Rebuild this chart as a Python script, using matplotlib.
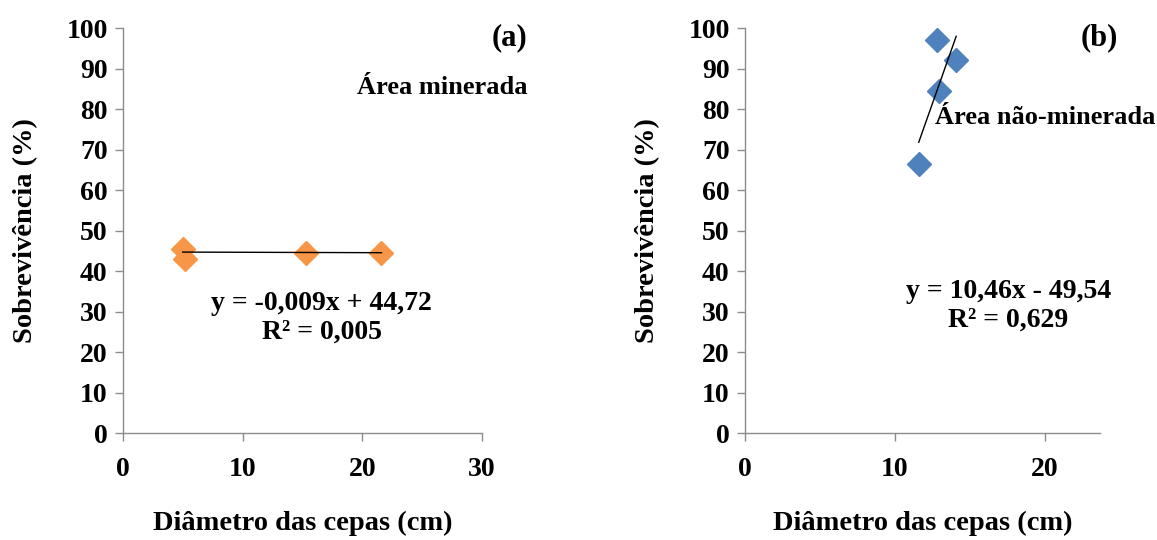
import numpy as np
import matplotlib
matplotlib.use('Agg')
import matplotlib.pyplot as plt

plt.rcParams['font.family'] = ['Liberation Serif', 'DejaVu Serif']
plt.rcParams['font.weight'] = 'bold'

# painel (a) - área minerada
diamA = [5.0, 5.2, 15.3, 21.6]
sobrevA = [45.5, 43.0, 44.5, 44.5]
eqA = (-0.009, 44.72)
txtA = "y = -0,009x + 44,72\nR² = 0,005"

# painel (b) - área não-minerada
diamB = [11.6, 12.8, 12.95, 14.1]
sobrevB = [66.5, 97.0, 84.5, 92.0]
eqB = (10.46, -49.54)
txtB = "y = 10,46x - 49,54\nR² = 0,629"

yticks = list(range(0, 101, 10))

fig = plt.figure(figsize=(11.57, 5.4), dpi=100)
axA = fig.add_axes([0.1063, 0.1981, 0.3103, 0.75])
axB = fig.add_axes([0.6439, 0.1981, 0.3068, 0.75])

def styleAxis(ax, xmax, xticks):
	ax.set_xlim(0, xmax)
	ax.set_ylim(0, 100)
	ax.set_xticks(xticks)
	ax.set_yticks(yticks)
	for s in ['top', 'right']:
		ax.spines[s].set_visible(False)
	for s in ['left', 'bottom']:
		ax.spines[s].set_color('#8c8c8c')
		ax.spines[s].set_linewidth(1.0)
	ax.tick_params(direction='out', length=6, width=1.0, color='#8c8c8c', labelsize=20)
	ax.tick_params(axis='y', pad=5)
	ax.tick_params(axis='x', pad=11)
	ax.set_xlabel('Diâmetro das cepas (cm)', fontsize=20.5, fontweight='bold', labelpad=21)
	ax.set_ylabel('Sobrevivência (%)', fontsize=20.5, fontweight='bold', labelpad=20)
	ax.patch.set_visible(False)

def drawTrend(ax, xs, ys, eq, color):
	ax.plot(xs, ys, linestyle='none', marker='D', markersize=12, color=color, clip_on=False)
	xl = np.array([min(xs), max(xs)])
	ax.plot(xl, eq[0] * xl + eq[1], color='black', linewidth=1.0)

styleAxis(axA, 30, [0, 10, 20, 30])
drawTrend(axA, diamA, sobrevA, eqA, '#F79646')
axA.text(32.3, 97.5, '(a)', fontsize=22, fontweight='bold', ha='center', va='center', clip_on=False)
axA.text(33.8, 85.4, 'Área minerada', fontsize=19, fontweight='bold', ha='right', va='center', clip_on=False)
axA.text(16.6, 28.4, txtA, fontsize=20, fontweight='bold', ha='center', va='center', linespacing=1.2)

styleAxis(axB, 23.7, [0, 10, 20])
drawTrend(axB, diamB, sobrevB, eqB, '#4F81BD')
axB.text(23.67, 97.5, '(b)', fontsize=22, fontweight='bold', ha='center', va='center', clip_on=False)
axB.text(12.67, 77.8, 'Área não-minerada', fontsize=19, fontweight='bold', ha='left', va='center', clip_on=False)
axB.text(17.6, 31.4, txtB, fontsize=20, fontweight='bold', ha='center', va='center', linespacing=1.2)

fig.savefig('out.png', dpi=100)
